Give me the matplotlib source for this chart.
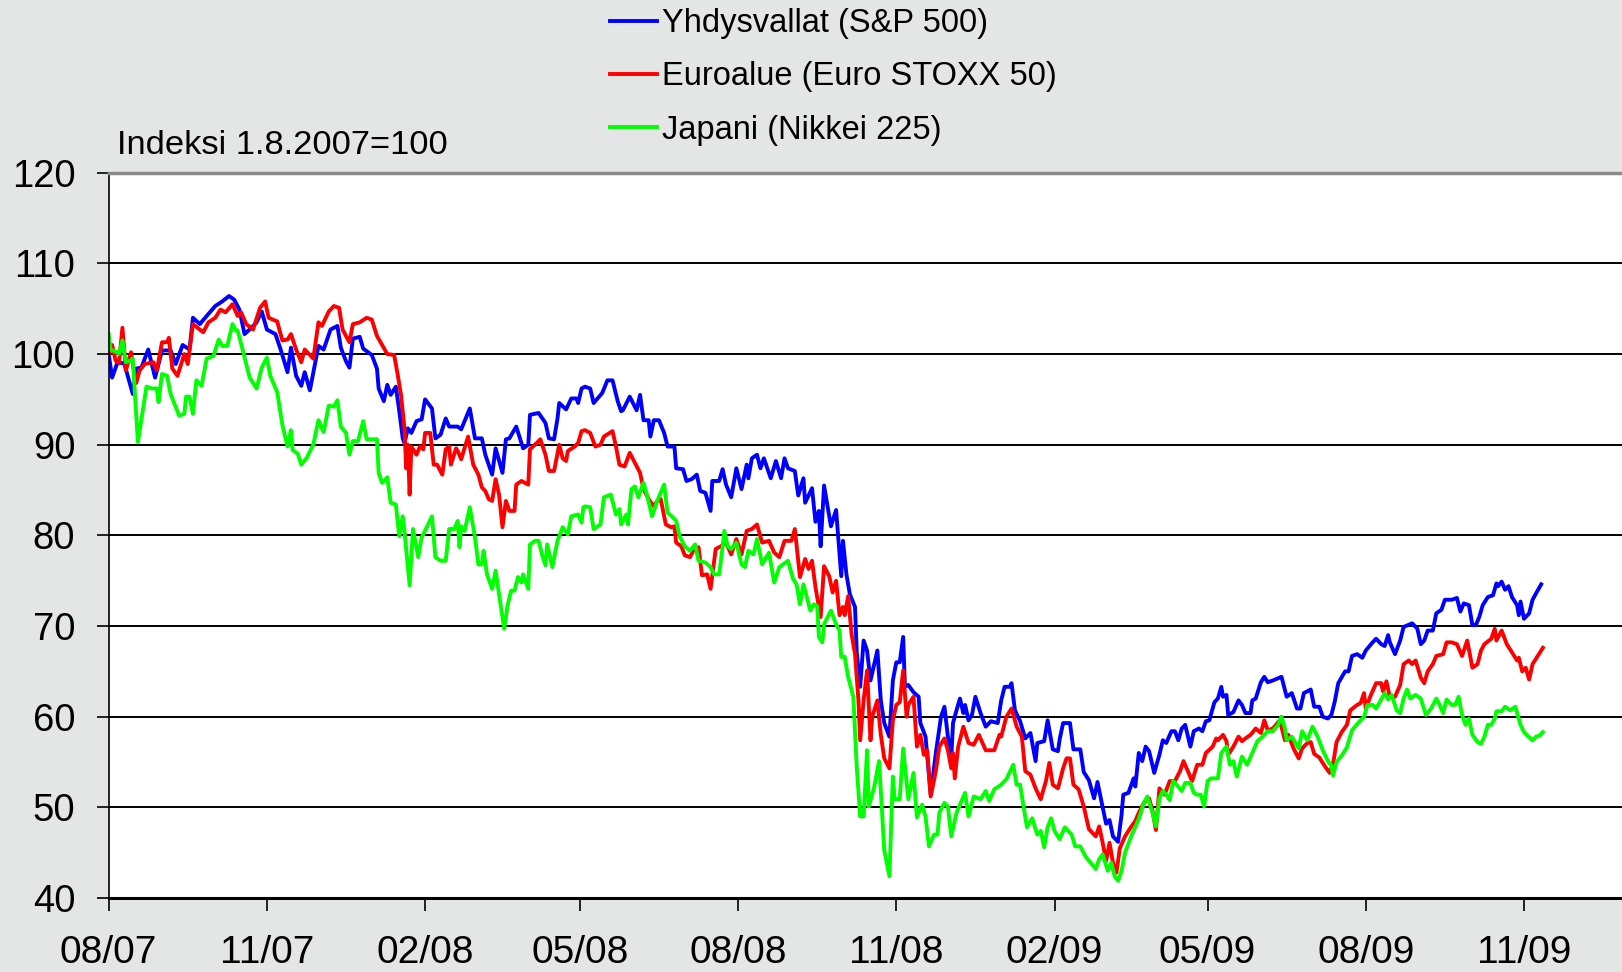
import numpy as np
import matplotlib
matplotlib.use("Agg")
import matplotlib.pyplot as plt
import matplotlib.dates as mdates

plt.rcParams['font.family'] = ['Liberation Sans', 'DejaVu Sans']

# paivat 1.8.2007 alkaen, indeksi 1.8.2007 = 100
sp_days = [0, 2, 5, 9, 14, 16, 19, 23, 27, 31, 36, 39, 43, 47, 49, 53, 57, 62, 66, 70,
           73, 76, 79, 83, 86, 89, 92, 97, 100, 104, 106, 109, 112, 114, 117, 122, 125, 129, 133, 135,
           138, 140, 142, 146, 148, 153, 156, 157, 160, 162, 164, 167, 169, 171, 172, 174, 176, 179, 182, 184,
           188, 190, 193, 196, 198, 203, 205, 210, 213, 217, 219, 223, 225, 229, 231, 233, 237, 241, 244, 245,
           250, 254, 256, 259, 261, 262, 266, 269, 272, 273, 275, 277, 280, 282, 287, 290, 293, 296, 298, 299,
           303, 307, 309, 311, 314, 315, 317, 320, 323, 325, 329, 330, 334, 336, 339, 342, 344, 347, 350, 351,
           355, 357, 359, 362, 365, 368, 371, 372, 374, 377, 379, 381, 385, 388, 391, 393, 395, 399, 401, 404,
           405, 409, 411, 413, 414, 416, 420, 423, 426, 427, 429, 431, 434, 435, 437, 439, 441, 443, 447, 449,
           451, 454, 456, 458, 460, 462, 463, 465, 468, 471, 472, 475, 478, 481, 484, 486, 488, 490, 491, 493,
           495, 497, 498, 500, 502, 504, 507, 510, 513, 517, 519, 521, 524, 525, 527, 530, 533, 536, 539, 540,
           544, 546, 549, 552, 553, 555, 559, 561, 565, 567, 570, 573, 575, 578, 580, 582, 584, 587, 589, 590,
           593, 596, 597, 599, 601, 603, 605, 608, 611, 613, 615, 618, 620, 622, 624, 626, 629, 631, 634, 636,
           638, 640, 643, 645, 647, 648, 650, 651, 654, 657, 659, 661, 664, 665, 667, 670, 672, 674, 677, 682,
           685, 688, 691, 693, 695, 699, 701, 704, 706, 709, 711, 713, 715, 719, 721, 723, 726, 729, 731, 735,
           737, 740, 742, 744, 745, 748, 751, 753, 758, 761, 763, 765, 767, 770, 772, 775, 777, 781, 784, 786,
           788, 791, 793, 795, 797, 799, 802, 805, 807, 808, 810, 812, 814, 816, 819, 820, 821, 823, 826, 828,
           830, 833]
sp_vals = [100, 97.4, 99, 99, 95.6, 98.4, 98.5, 100.5, 97.4, 100.4, 100.4, 98.9, 101, 100.5, 104, 103.3, 104.2, 105.3, 105.8, 106.4,
           106, 104.9, 102.2, 102.9, 103.5, 104.7, 102.7, 102.2, 100.5, 98, 100.7, 97.6, 96.5, 98, 96, 100.9, 100.5, 102.7, 103.1, 100.7,
           99.2, 98.5, 101.7, 101.9, 100.6, 99.9, 98.4, 96.2, 94.8, 96.6, 95.5, 96.4, 93.7, 90.7, 90.2, 91.8, 91.3, 92.6, 92.8, 95,
           94, 90.7, 91.1, 92.9, 92, 92, 91.7, 94, 90.7, 90.7, 88.9, 86.7, 89.6, 86.9, 90.6, 90.7, 92, 89.6, 90, 93.3,
           93.5, 92.4, 90.7, 90.6, 92.9, 94.6, 93.9, 95.1, 95.1, 94.6, 96.2, 96.4, 96.2, 94.6, 95.7, 97.1, 97.1, 94.8, 93.7, 93.8,
           95.3, 93.8, 95.5, 92.7, 92.7, 90.9, 92.7, 92.7, 91.3, 89.8, 89.8, 87.4, 87.3, 86, 86.2, 86.7, 84.9, 84.7, 82.7, 86,
           86, 87.3, 85.6, 84.2, 87.4, 85.1, 87.8, 86.3, 88.5, 88.9, 87.4, 88.5, 86.3, 88.2, 86.3, 88.5, 87.4, 87.1, 84.4, 86.3,
           83.6, 85.2, 81.5, 82.7, 78.8, 85.5, 81, 82.8, 75.5, 79.4, 75.7, 73.5, 72.1, 67.1, 63.3, 68.4, 67.3, 64, 67.3, 61.8,
           59.3, 57.8, 64, 66, 66, 68.8, 63.3, 63.5, 62.7, 62.2, 59.3, 57.8, 51.4, 56, 60, 61.1, 57.8, 55.6, 59.3, 60.7,
           62, 60.4, 61.3, 59.6, 60.2, 62.2, 60.4, 58.9, 59.5, 59.3, 61.8, 63.3, 63.3, 63.7, 60.7, 59.5, 57.6, 58.2, 55.1, 57.1,
           57.3, 59.6, 56.4, 56.2, 57.5, 59.3, 59.3, 56.4, 56.4, 53.9, 53, 51, 52.8, 50, 48.2, 48.6, 46.8, 46.2, 49.2, 51.4,
           51.6, 53.2, 52.3, 56, 55.1, 56.7, 56.2, 53.8, 55.8, 57.4, 57.1, 58.4, 58.4, 57.4, 58.7, 59.1, 56.7, 58.4, 58.7, 58.4,
           59.5, 59.6, 61.6, 62, 63.3, 62.2, 62.4, 60.2, 60.5, 61.8, 61.3, 60.4, 60.4, 61.8, 62, 63.8, 64.4, 63.8, 64, 64.4,
           62.2, 62.6, 60.9, 60.9, 62.6, 63, 61.1, 61.1, 60, 59.8, 60.2, 61.7, 63.7, 65, 65, 66.7, 66.9, 66.5, 67.3, 68.2,
           68.6, 68, 67.8, 69, 68.2, 66.9, 68.4, 69.9, 70.3, 69.7, 68, 68.4, 69.5, 69.5, 71.4, 71.8, 72.9, 72.9, 73.1, 71.6,
           72.5, 72.3, 70.1, 70.1, 71, 72.3, 73.2, 73.4, 74.7, 74.4, 74.9, 74, 74.4, 73.2, 72.3, 71.2, 72.7, 70.8, 71.4, 72.9,
           73.6, 74.6]

eu_days = [0, 2, 4, 6, 8, 10, 13, 14, 16, 18, 21, 26, 28, 31, 34, 35, 37, 40, 44, 46,
           49, 55, 58, 62, 65, 68, 72, 75, 77, 80, 84, 88, 91, 93, 98, 101, 104, 106, 109, 112,
           114, 119, 122, 124, 128, 131, 134, 136, 140, 142, 146, 150, 153, 156, 159, 162, 166, 168, 170, 172,
           173, 174, 175, 176, 179, 181, 183, 184, 187, 189, 191, 194, 196, 198, 199, 202, 203, 205, 209, 212,
           215, 217, 219, 221, 223, 225, 227, 229, 231, 233, 236, 237, 240, 244, 245, 249, 251, 254, 256, 259,
           262, 264, 266, 267, 271, 273, 275, 277, 280, 283, 286, 288, 293, 295, 297, 300, 303, 306, 309, 311,
           314, 317, 319, 321, 324, 327, 329, 330, 333, 335, 338, 340, 343, 345, 348, 350, 353, 356, 359, 362,
           365, 368, 371, 374, 377, 380, 384, 387, 390, 393, 397, 399, 402, 405, 407, 409, 411, 414, 416, 419,
           421, 423, 425, 427, 428, 430, 432, 434, 436, 437, 439, 441, 443, 444, 447, 449, 451, 454, 456, 458,
           460, 462, 464, 465, 468, 470, 472, 474, 476, 478, 481, 483, 486, 488, 490, 491, 492, 494, 497, 500,
           503, 506, 510, 515, 518, 519, 522, 525, 528, 531, 533, 536, 539, 542, 545, 547, 549, 552, 555, 557,
           559, 561, 564, 567, 570, 574, 576, 578, 580, 582, 584, 586, 588, 591, 594, 597, 599, 602, 605, 607,
           609, 611, 614, 617, 620, 623, 625, 628, 630, 633, 636, 638, 642, 644, 645, 648, 650, 651, 654, 657,
           659, 661, 664, 667, 670, 672, 674, 677, 681, 684, 686, 689, 692, 694, 697, 699, 701, 704, 707, 710,
           712, 714, 717, 720, 722, 726, 728, 730, 731, 734, 737, 740, 741, 743, 745, 748, 751, 753, 756, 758,
           760, 763, 765, 767, 770, 772, 776, 778, 781, 784, 787, 790, 793, 796, 798, 800, 804, 806, 807, 810,
           813, 816, 819, 820, 822, 824, 826, 828, 831, 834]
eu_vals = [100, 101, 99.3, 99, 102.9, 98.2, 100.2, 98.9, 96.8, 98.2, 98.9, 99.1, 98.2, 101.3, 101.3, 101.8, 98.4, 97.6, 100, 98.9,
           103.3, 102.4, 103.5, 104, 104.9, 104.6, 105.5, 104.2, 104.6, 103.3, 102.7, 105.1, 105.8, 104, 103.6, 101.5, 101.6, 102.2, 100.5, 99.1,
           100.5, 99.5, 103.5, 103.1, 104.7, 105.3, 105.1, 102.7, 101.3, 103.3, 103.5, 104, 103.8, 102, 101, 100, 99.9, 97.8, 95.5, 91.8,
           87.4, 90, 84.5, 89.8, 88.9, 89.8, 89.5, 91.3, 91.3, 87.8, 87.8, 86.7, 89.5, 89.8, 87.8, 89.6, 89.3, 88.4, 90.9, 87.8,
           86.7, 85.3, 84.9, 84, 83.8, 86.2, 84.5, 80.9, 83.8, 82.7, 82.7, 85.6, 86, 85.6, 89.5, 90.2, 90.6, 88.9, 87.1, 87.1,
           90, 88.5, 88.2, 89.3, 89.8, 90.2, 91.5, 91.6, 91.3, 89.8, 90, 90.9, 91.5, 89.8, 87.8, 87.6, 89.1, 88, 86.9, 85.1,
           84, 83.2, 83.8, 84, 81.2, 80.9, 81, 79.2, 78.8, 77.8, 77.6, 78.3, 78.7, 75.6, 75.7, 74.1, 78.5, 78.8, 79.2, 77.9,
           79.6, 77.9, 80.5, 80.7, 81.2, 79.2, 79.4, 78.1, 77.6, 79.4, 79.4, 80.7, 75.4, 77.4, 76.3, 77.2, 74.3, 71, 76.6, 75.5,
           73.7, 75, 71.2, 72.1, 71.2, 73.3, 69.1, 66.9, 61.8, 57.4, 61.8, 65.1, 57.4, 60, 61.8, 58, 55.4, 54.3, 59.6, 61.3,
           61.6, 65.1, 60, 61.3, 62.2, 56.7, 58, 55.8, 56.3, 51.2, 54, 56.7, 57.6, 56.3, 54.3, 56, 53.2, 56.7, 58.9, 57.1,
           56.9, 58, 56.3, 56.3, 58, 57.8, 60, 60.9, 58.9, 57.8, 54, 53.6, 52.1, 50.9, 52.9, 54.9, 52.5, 52.1, 54.3, 55.4,
           55.4, 52.5, 52, 50.1, 47.6, 46.8, 47.9, 46.1, 44.1, 46.1, 43.9, 42.8, 45.5, 46.8, 47.7, 48.5, 49.4, 50.5, 51, 49.6,
           47.5, 52.1, 51.4, 52.9, 52.9, 54, 55.1, 53.8, 52.9, 54.7, 54.7, 56, 56.7, 57.6, 57.4, 58, 57.3, 55.8, 56.7, 57.8,
           57.3, 57.6, 58, 58.7, 58.2, 59.6, 58.5, 58.7, 59.6, 57.4, 58, 56.5, 55.4, 56.5, 57.1, 57.2, 55.9, 55.5, 54.6, 53.8,
           54.8, 57.2, 58.3, 59.1, 60.7, 61.3, 61.5, 62.6, 60.9, 62.4, 63.7, 63.7, 62.8, 63.9, 62.2, 62.2, 63.5, 65.8, 66.2, 65.8,
           66.2, 64.3, 63.7, 65, 65.8, 66.7, 66.9, 68.2, 68.2, 68, 66.7, 68.4, 65.4, 65.8, 67.3, 68, 68.6, 69.7, 68.4, 69.5,
           68, 67.1, 66.2, 66.5, 65, 65.4, 64.1, 65.8, 66.7, 67.6]

jp_days = [0, 1, 5, 6, 8, 10, 13, 14, 17, 20, 22, 25, 28, 29, 31, 34, 36, 41, 44, 45,
           47, 49, 51, 54, 57, 61, 64, 66, 69, 72, 74, 75, 78, 82, 86, 89, 92, 94, 98, 101,
           104, 106, 107, 110, 112, 115, 119, 122, 125, 128, 131, 133, 135, 138, 140, 142, 145, 148, 150, 156,
           157, 159, 162, 164, 167, 169, 171, 172, 175, 177, 180, 182, 184, 188, 190, 193, 196, 198, 201, 203,
           204, 205, 207, 210, 213, 215, 217, 218, 220, 223, 225, 227, 230, 232, 234, 236, 238, 240, 241, 244,
           245, 248, 250, 252, 254, 255, 258, 261, 264, 267, 269, 273, 275, 276, 277, 280, 282, 286, 288, 292,
           295, 297, 298, 301, 302, 304, 306, 308, 311, 313, 316, 319, 323, 325, 328, 330, 332, 335, 338, 341,
           343, 347, 350, 352, 355, 357, 358, 360, 362, 365, 368, 370, 372, 375, 377, 380, 384, 387, 390, 395,
           398, 400, 402, 404, 406, 408, 410, 412, 413, 415, 416, 420, 423, 425, 426, 428, 430, 433, 435, 437,
           439, 441, 442, 445, 448, 451, 454, 456, 457, 460, 462, 465, 468, 470, 473, 475, 477, 480, 482, 483,
           486, 488, 490, 493, 498, 500, 503, 507, 510, 512, 515, 519, 522, 526, 528, 530, 532, 534, 537, 540,
           542, 544, 546, 548, 550, 553, 556, 560, 562, 565, 568, 571, 574, 576, 578, 581, 583, 585, 587, 589,
           591, 595, 599, 602, 604, 607, 609, 611, 613, 615, 617, 619, 621, 624, 626, 629, 631, 633, 635, 637,
           639, 641, 645, 647, 650, 652, 654, 656, 659, 662, 665, 668, 671, 674, 677, 680, 682, 684, 685, 688,
           692, 694, 697, 700, 703, 706, 709, 711, 712, 714, 717, 720, 723, 727, 730, 732, 735, 737, 740, 742,
           744, 746, 749, 751, 753, 755, 757, 760, 763, 766, 769, 772, 774, 776, 778, 781, 783, 785, 787, 789,
           791, 793, 796, 798, 800, 802, 804, 806, 807, 810, 812, 815, 818, 821, 823, 825, 828, 830, 832, 834]
jp_vals = [102.2, 100.5, 100.2, 100, 101.5, 99.1, 99.3, 99.5, 90.3, 94, 96.4, 96.2, 96.2, 94.7, 97.8, 97.6, 95.6, 93.2, 93.4, 95.3,
           95.3, 93.4, 97.1, 96.5, 99.5, 99.8, 101.6, 100.9, 100.9, 103.3, 102.6, 102.6, 100.4, 97.4, 96.2, 98.5, 99.6, 97.6, 95.8, 92.2,
           89.8, 91.6, 89.4, 89, 87.8, 88.5, 90, 92.7, 91.4, 94.3, 94.2, 94.9, 92, 91.3, 88.9, 90.4, 90.4, 92.6, 90.6, 90.6,
           86.9, 85.8, 86.4, 83.6, 83.4, 79.9, 82.1, 80.5, 74.5, 80.7, 77.6, 79.8, 80.5, 82.1, 77.6, 77.2, 77.2, 80.7, 80.7, 81.6,
           78.7, 81, 80.5, 83.1, 79.8, 76.8, 76.8, 78.3, 75.7, 74.1, 76.1, 73.5, 69.7, 72.3, 73.9, 73.9, 75.4, 74.8, 75.7, 74.1,
           79, 79.4, 79.4, 77.9, 76.7, 79, 76.5, 79.4, 80.9, 80.1, 82.1, 82.3, 81.4, 83.1, 83.2, 83.1, 80.7, 81.2, 84.2, 84.5,
           82.3, 82.9, 81.2, 82.3, 81.2, 85.1, 85.4, 84.2, 85.8, 84.5, 82.1, 83.8, 85.6, 82.5, 82, 81.6, 79.9, 78.8, 78.3, 79,
           77.2, 77, 76.5, 75.7, 75.7, 78.7, 80.5, 78.8, 78.5, 79.2, 76.8, 76.5, 78.3, 77.9, 79.6, 76.8, 78.1, 74.8, 76.5, 77.2,
           75.2, 74.6, 72.4, 74.6, 73.2, 71.7, 72.4, 72.2, 68.8, 68.2, 70.2, 71.7, 70.2, 69.5, 66.6, 66.6, 64.4, 62.2, 54.5, 49,
           49, 56.3, 50.1, 52.1, 55.1, 45.3, 42.4, 53.4, 50.9, 50.9, 56.5, 50.9, 53.8, 48.9, 50.3, 49, 45.7, 47, 47, 49.4,
           50.5, 50.1, 46.8, 49.4, 51.6, 49, 51.2, 50.9, 51.8, 50.7, 52, 52.5, 53.1, 54.7, 52.5, 52.5, 50.1, 47.8, 48.8, 47,
           47.4, 45.6, 47.8, 48.8, 47.4, 46.5, 47.8, 47, 45.7, 45.7, 44.6, 43.9, 43.2, 44.3, 44.8, 43, 43.9, 42.4, 41.9, 43,
           45, 47, 48.7, 50.5, 51.2, 49.4, 47.9, 51, 51.8, 51.4, 50.8, 52.9, 52.5, 51.8, 52.7, 52.7, 51.6, 51.4, 51.4, 50.1,
           52.9, 53.2, 53.2, 56, 56.7, 54.7, 55.1, 53.4, 55.6, 54.7, 56, 57.3, 57.8, 58.4, 58.4, 59.1, 60, 58.7, 57.4, 57.8,
           56.5, 58.4, 57.4, 58.9, 57.8, 56.3, 55.1, 54.6, 53.5, 55, 55.7, 56.6, 58.5, 59.4, 60, 61.3, 61.3, 60.9, 61.9, 62.6,
           61.9, 62.4, 60.7, 60.4, 62, 63, 62, 62.4, 62, 60.2, 60.9, 62, 61.3, 60.4, 61.9, 61.3, 61.3, 62.2, 60.2, 59.1,
           59.8, 58, 57.2, 57, 57.8, 59.1, 59.1, 59.8, 60.6, 60.6, 61.1, 60.7, 61.1, 59.1, 58.3, 57.9, 57.4, 57.8, 57.9, 58.3]

labels = ['Yhdysvallat (S&P 500)', 'Euroalue (Euro STOXX 50)', 'Japani (Nikkei 225)']
colors = ['#0000FF', '#FF0000', '#00FF00']

start = np.datetime64('2007-08-01')


def to_dates(days):
    return start + np.array(days).astype('timedelta64[D]')


bg = '#E4E6E5'
fig = plt.figure(figsize=(16.22, 9.72), dpi=100, facecolor=bg)
ax = fig.add_axes([0.067, 0.0761, 0.933, 0.7462])
ax.set_facecolor('white')

series = [(sp_days, sp_vals), (eu_days, eu_vals), (jp_days, jp_vals)]
handles = []
for (d, v), lab, c in zip(series, labels, colors):
    h, = ax.plot(to_dates(d), v, color=c, lw=2.8, label=lab)
    handles.append(h)

ax.set_ylim(40, 120)
ax.set_yticks(range(40, 121, 10))
ax.set_xlim(start, start + np.timedelta64(880, 'D'))
ax.xaxis.set_major_locator(mdates.MonthLocator(bymonth=(2, 5, 8, 11)))
ax.xaxis.set_major_formatter(mdates.DateFormatter('%m/%y'))

ax.yaxis.grid(True, color='black', lw=1.4)
ax.set_axisbelow(True)

ax.spines['right'].set_visible(False)
ax.spines['top'].set_color('#8a8a8a')
ax.spines['top'].set_linewidth(2.5)
ax.spines['left'].set_color('black')
ax.spines['left'].set_linewidth(1.2)
ax.spines['bottom'].set_color('black')
ax.spines['bottom'].set_linewidth(2.2)

ax.tick_params(axis='y', direction='out', length=9, width=1.2, pad=15, labelsize=27.5)
ax.tick_params(axis='x', direction='out', length=9, width=1.2, pad=17.5, labelsize=28)

fig.text(0.0721, 0.8498, 'Indeksi 1.8.2007=100', fontsize=24.8, va='center', ha='left')

fig.legend(handles=handles, loc='upper left', bbox_to_anchor=(0.376, 0.9916),
           frameon=False, fontsize=23.5, handlelength=1.45, handletextpad=0.15,
           labelspacing=0.68, borderpad=0, borderaxespad=0)

fig.savefig('out.png', dpi=100, facecolor=bg)
